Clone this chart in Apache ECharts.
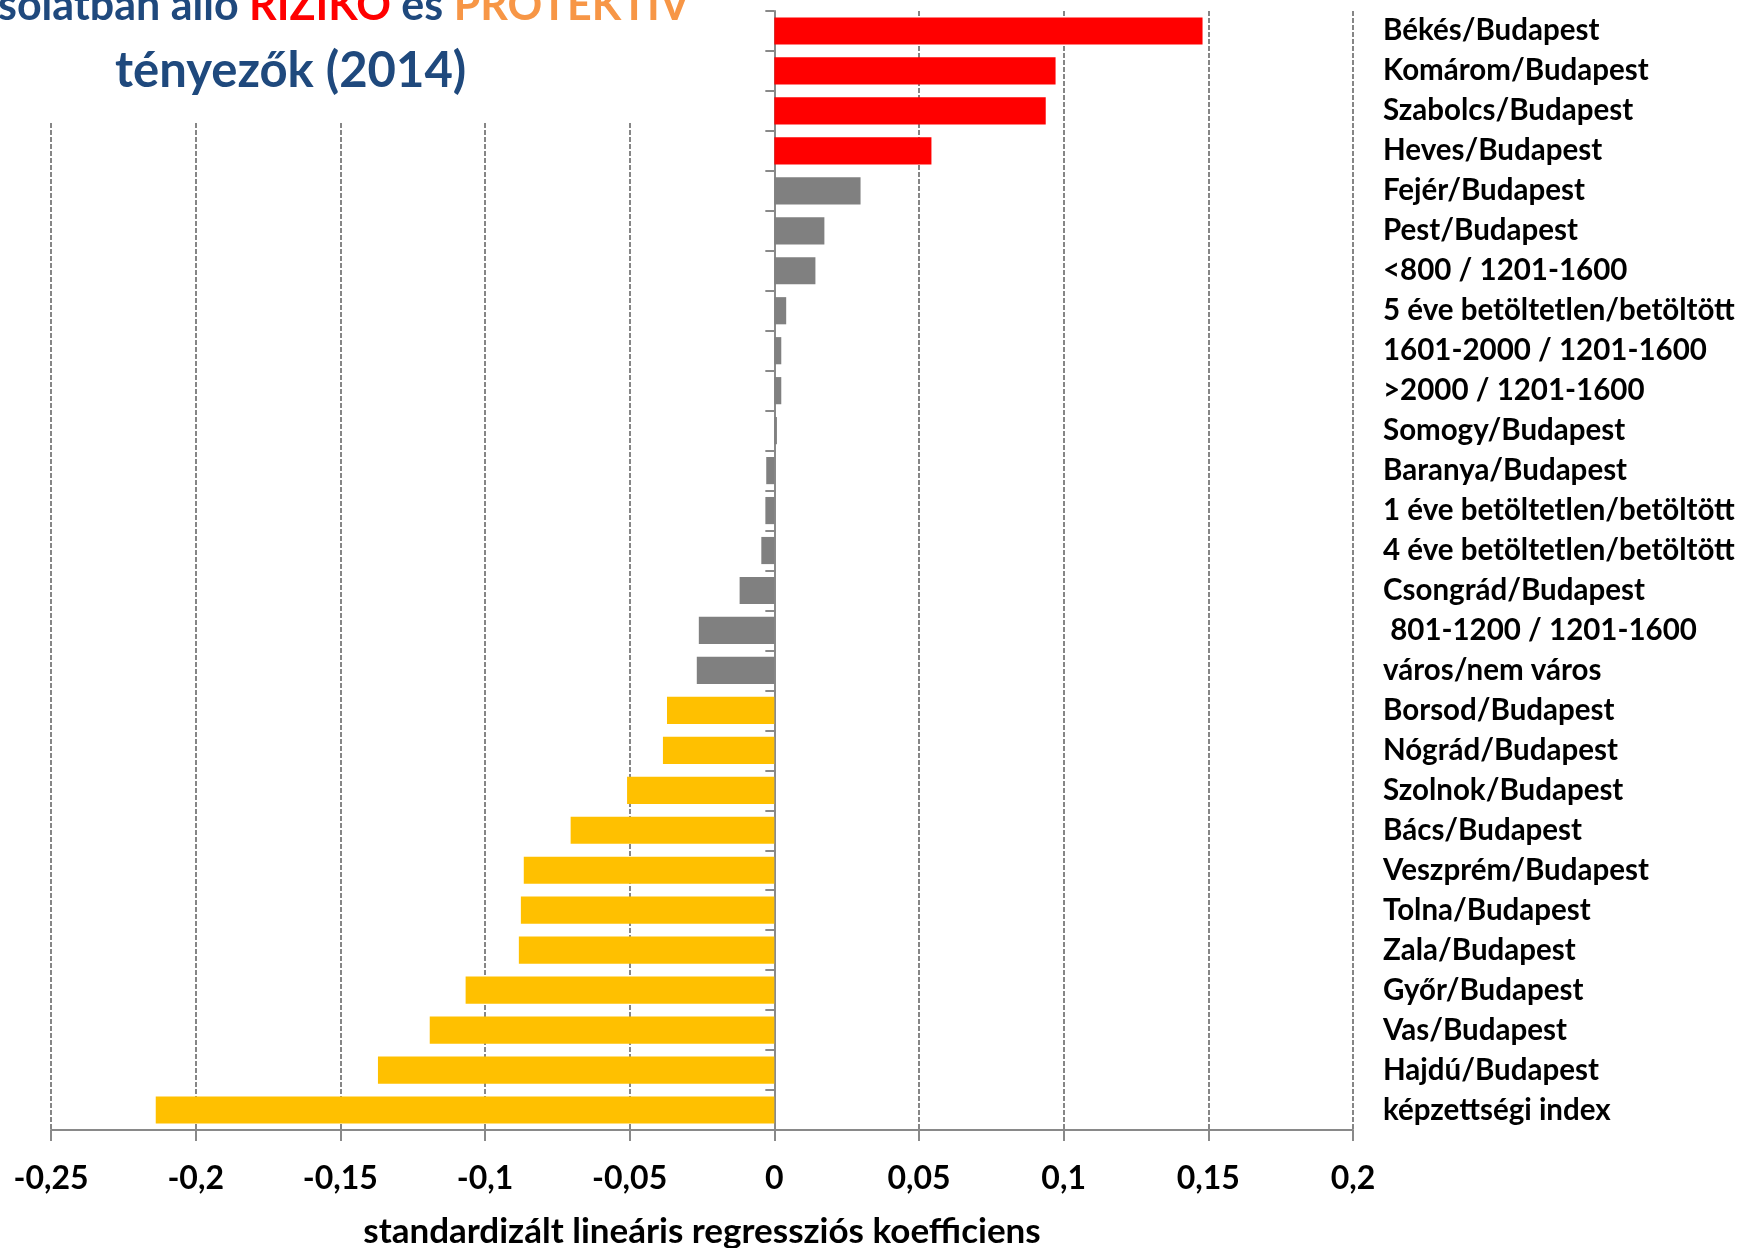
<!DOCTYPE html>
<html>
<head>
<meta charset="utf-8">
<script src="https://cdn.jsdelivr.net/npm/echarts@6/dist/echarts.min.js"></script>
<style>html,body{margin:0;padding:0;background:#fff}#c{width:1751px;height:1248px}</style>
</head>
<body>
<div id="c"></div>
<script>
const categories = ['Békés/Budapest','Komárom/Budapest','Szabolcs/Budapest','Heves/Budapest','Fejér/Budapest','Pest/Budapest','<800 / 1201-1600','5 éve betöltetlen/betöltött','1601-2000 / 1201-1600','>2000 / 1201-1600','Somogy/Budapest','Baranya/Budapest','1 éve betöltetlen/betöltött','4 éve betöltetlen/betöltött','Csongrád/Budapest',' 801-1200 / 1201-1600','város/nem város','Borsod/Budapest','Nógrád/Budapest','Szolnok/Budapest','Bács/Budapest','Veszprém/Budapest','Tolna/Budapest','Zala/Budapest','Győr/Budapest','Vas/Budapest','Hajdú/Budapest','képzettségi index'];
const values = [0.148,0.0972,0.0938,0.0543,0.0298,0.0173,0.0142,0.0041,0.0024,0.0024,0.0009,-0.0028,-0.0031,-0.0045,-0.012,-0.0261,-0.0268,-0.0371,-0.0385,-0.0509,-0.0704,-0.0866,-0.0876,-0.0883,-0.1067,-0.1191,-0.137,-0.2138];
// R = rizikó (risk), N = nem szignifikáns, P = protektív
const kinds = ['R','R','R','R','N','N','N','N','N','N','N','N','N','N','N','N','N','P','P','P','P','P','P','P','P','P','P','P'];
const kindColors = {R:'#FF0000', N:'#808080', P:'#FFC000'};
const xTicks = {min:-0.25, max:0.2, step:0.05};
const titleLine1 = ['solatban álló ', 'RIZIKÓ', ' és ', 'PROTEKTÍV'];
const titleLine2 = 'tényezők (2014)';
const axisTitle = 'standardizált lineáris regressziós koefficiens';

const FONT = 'Lato';
const chart = echarts.init(document.getElementById('c'), null, {renderer:'canvas'});
const grey = '#898989';
const t1 = {fontFamily: FONT, fontWeight:'bold', fontSize:43, lineHeight:56};
chart.setOption({
  animation: false,
  backgroundColor: '#fff',
  title: [
    {text: '{a|' + titleLine1[0] + '}{r|' + titleLine1[1] + '}{a|' + titleLine1[2] + '}{o|' + titleLine1[3] + '}',
     left: -2, top: -22, padding: 0, z: 20,
     textStyle: Object.assign({}, t1, {
       rich: {
         a: Object.assign({color:'#1F497D'}, t1),
         r: Object.assign({color:'#FF0000'}, t1),
         o: Object.assign({color:'#F79646'}, t1)
       }})},
    {text: titleLine2, left: 115, top: 41, padding: 0, z: 20,
     textStyle: {color:'#1F497D', fontFamily: FONT, fontWeight:'bold', fontSize:49, lineHeight:60}}
  ],
  graphic: [{type:'rect', left:0, top:0, z: 10, shape:{width:762, height:123}, style:{fill:'#fff'}}],
  grid: {left: 51, right: 398, top: 11, bottom: 118, containLabel: false, outerBoundsMode: 'none'},
  xAxis: {
    type: 'value', min: xTicks.min, max: xTicks.max, interval: xTicks.step,
    axisLine: {show: true, onZero: false, lineStyle: {color: grey, width: 2}},
    axisTick: {show: true, inside: false, length: 11, lineStyle: {color: grey, width: 2}},
    splitLine: {show: true, lineStyle: {color: '#868686', width: 2, type: [5, 2]}},
    axisLabel: {margin: 33, color: '#000', fontFamily: FONT, fontWeight: 'bold', fontSize: 32,
      formatter: v => String(Number(v.toFixed(2))).replace('.', ',')},
    name: axisTitle, nameLocation: 'middle', nameGap: 84,
    nameTextStyle: {color: '#000', fontFamily: FONT, fontWeight: 'bold', fontSize: 35}
  },
  yAxis: [
    {type: 'category', data: categories, inverse: true, position: 'left',
     axisLine: {show: true, onZero: true, lineStyle: {color: grey, width: 2}},
     axisTick: {show: true, length: 9, lineStyle: {color: grey, width: 2}},
     axisLabel: {show: false}, splitLine: {show: false}},
    {type: 'category', data: categories, inverse: true, position: 'right',
     axisLine: {show: false, onZero: false}, axisTick: {show: false}, splitLine: {show: false},
     axisLabel: {show: true, margin: 30, align: 'left', color: '#000', fontFamily: FONT, fontWeight: 'bold', fontSize: 29.5}}
  ],
  series: [{
    type: 'bar', yAxisIndex: 0, barCategoryGap: '32%',
    data: values.map((v, i) => ({value: v, itemStyle: {color: kindColors[kinds[i]]}}))
  }]
});
</script>
</body>
</html>
